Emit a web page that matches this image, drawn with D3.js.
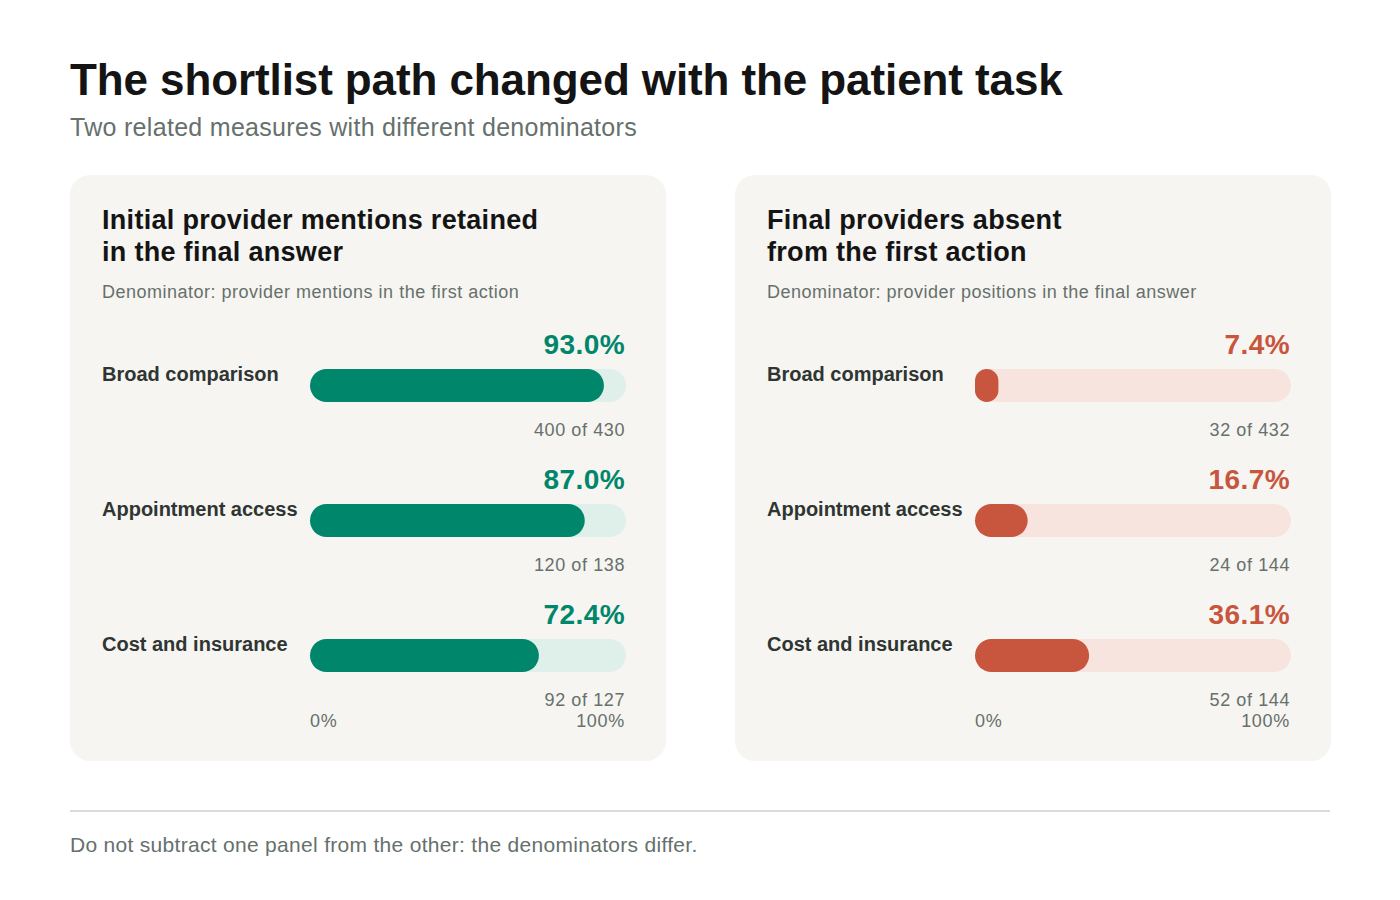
<!DOCTYPE html>
<html>
<head>
<meta charset="utf-8">
<script src="https://cdn.jsdelivr.net/npm/d3@7/dist/d3.min.js"></script>
<style>
  body { margin: 0; background: #fff; }
  svg { display: block; font-family: "Liberation Sans", Arial, sans-serif; }
</style>
</head>
<body>
<div id="chart"></div>
<script>
// data
var categories = ['Broad comparison', 'Appointment access', 'Cost and insurance'];
var retainedNum = [400, 120, 92];
var retainedDen = [430, 138, 127];
var absentNum = [32, 24, 52];
var absentDen = [432, 144, 144];
var axisTicks = ['0%', '100%'];

var panels = [
    { title: ['Initial provider mentions retained', 'in the final answer'],
      note: 'Denominator: provider mentions in the first action',
      num: retainedNum, den: retainedDen,
      color: '#00866a', track: '#dff0ea' },
    { title: ['Final providers absent', 'from the first action'],
      note: 'Denominator: provider positions in the final answer',
      num: absentNum, den: absentDen,
      color: '#c8553d', track: '#f7e4df' }
];

var W = 1400, H = 900;
var grey = '#66706c';
var svg = d3.select('#chart').append('svg')
    .attr('width', W)
    .attr('height', H);

svg.append('text')
    .attr('x', 70).attr('y', 95)
    .attr('font-size', 44).attr('font-weight', 700)
    .attr('letter-spacing', -0.1)
    .attr('fill', '#141414')
    .text('The shortlist path changed with the patient task');

svg.append('text')
    .attr('x', 70).attr('y', 136)
    .attr('font-size', 25)
    .attr('letter-spacing', 0.3)
    .attr('fill', grey)
    .text('Two related measures with different denominators');

var panelW = 596, panelH = 586, panelY = 175;
var panelX = d3.scaleOrdinal().domain([0, 1]).range([70, 735]);

var x = d3.scaleLinear().domain([0, 1]).range([240, 556]);
var rowY = d3.scalePoint().domain(categories).range([194, 464]);
var barH = 33;

panels.forEach(function(p, pi) {
    var g = svg.append('g')
        .attr('transform', 'translate(' + panelX(pi) + ',' + panelY + ')');

    g.append('rect')
        .attr('width', panelW).attr('height', panelH)
        .attr('rx', 20)
        .attr('fill', '#f6f5f1');

    g.selectAll('text.ptitle')
        .data(p.title)
        .join('text')
        .attr('class', 'ptitle')
        .attr('x', 32)
        .attr('y', function(d, i) { return 54 + i * 32; })
        .attr('font-size', 27).attr('font-weight', 700)
        .attr('letter-spacing', 0.3)
        .attr('fill', '#141414')
        .text(function(d) { return d; });

    g.append('text')
        .attr('x', 32).attr('y', 123)
        .attr('font-size', 18)
        .attr('letter-spacing', 0.5)
        .attr('fill', grey)
        .text(p.note);

    var rows = g.selectAll('g.row')
        .data(categories.map(function(c, i) {
            return { cat: c, num: p.num[i], den: p.den[i], v: p.num[i] / p.den[i] };
        }))
        .join('g')
        .attr('class', 'row')
        .attr('transform', function(d) { return 'translate(0,' + rowY(d.cat) + ')'; });

    rows.append('text')
        .attr('x', 32).attr('y', 12)
        .attr('font-size', 20).attr('font-weight', 700)
        .attr('fill', '#2f3532')
        .text(function(d) { return d.cat; });

    rows.append('rect')
        .attr('x', x(0)).attr('y', 0)
        .attr('width', x(1) - x(0)).attr('height', barH)
        .attr('rx', barH / 2)
        .attr('fill', p.track);

    rows.append('rect')
        .attr('x', x(0)).attr('y', 0)
        .attr('width', function(d) { return x(d.v) - x(0); })
        .attr('height', barH)
        .attr('rx', function(d) { return Math.min(barH / 2, (x(d.v) - x(0)) / 2); })
        .attr('fill', p.color);

    rows.append('text')
        .attr('x', x(1) - 1).attr('y', -15)
        .attr('text-anchor', 'end')
        .attr('font-size', 28).attr('font-weight', 700)
        .attr('letter-spacing', 0.4)
        .attr('fill', p.color)
        .text(function(d) { return d3.format('.1%')(d.v); });

    rows.append('text')
        .attr('x', x(1) - 1).attr('y', 67)
        .attr('text-anchor', 'end')
        .attr('font-size', 18)
        .attr('letter-spacing', 0.6)
        .attr('fill', grey)
        .text(function(d) { return d.num + ' of ' + d.den; });

    g.selectAll('text.tick')
        .data(axisTicks)
        .join('text')
        .attr('class', 'tick')
        .attr('x', function(d, i) { return i === 0 ? x(0) : x(1) - 1; })
        .attr('y', 552)
        .attr('text-anchor', function(d, i) { return i === 0 ? 'start' : 'end'; })
        .attr('font-size', 18)
        .attr('letter-spacing', 0.7)
        .attr('fill', grey)
        .text(function(d) { return d; });
});

svg.append('line')
    .attr('x1', 70).attr('x2', 1330)
    .attr('y1', 811).attr('y2', 811)
    .attr('stroke', '#d9dcda').attr('stroke-width', 2);

svg.append('text')
    .attr('x', 70).attr('y', 852)
    .attr('font-size', 21)
    .attr('letter-spacing', 0.3)
    .attr('fill', grey)
    .text('Do not subtract one panel from the other: the denominators differ.');
</script>
</body>
</html>
